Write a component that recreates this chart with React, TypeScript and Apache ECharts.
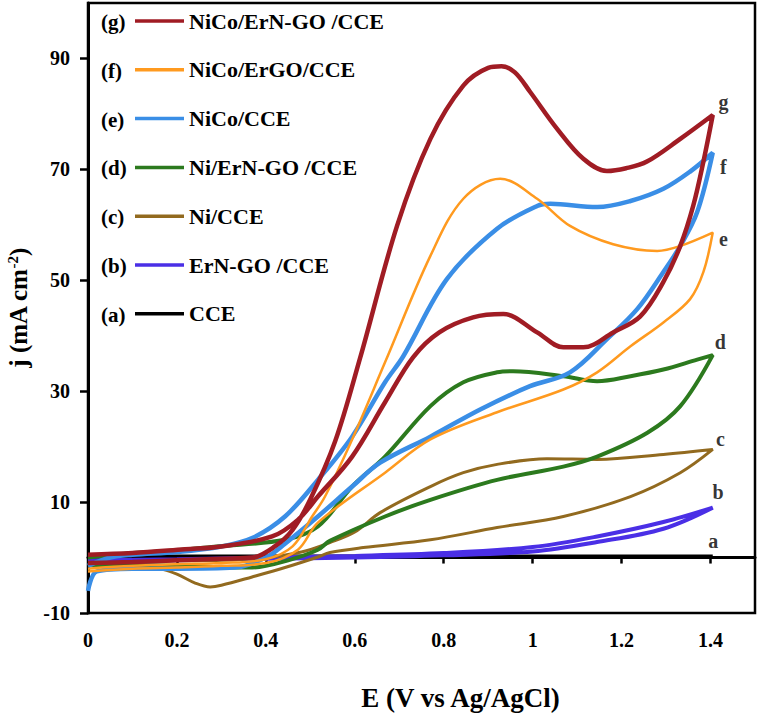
import React, { useEffect, useRef } from "react";
import * as echarts from "echarts";

// ---- data (E in V vs Ag/AgCl, j in mA cm^-2); each curve is one CV loop ----
const curveA: number[][] = [
  [0, 0.2], [0.4, 0.2], [0.8, 0.2], [1.2, 0.2], [1.405, 0.2],
  [1.2, 0.1], [0.8, 0.1], [0.4, 0.1], [0, 0.1],
];
const curveB: number[][] = [
  [0, -0.5], [0.2, -0.3], [0.4, 0], [0.6, 0.3], [0.8, 0.8], [1.0, 1.9], [1.145, 3.8], [1.294, 6.4], [1.405, 9],
  [1.294, 5.2], [1.145, 2.8], [1.0, 1.1], [0.8, 0.4], [0.6, 0], [0.4, -0.2], [0.2, -0.4], [0, -0.6],
];
const curveC: number[][] = [
  [0, -1], [0.1, -0.8], [0.2, -0.6], [0.3, -0.5], [0.4, 0], [0.48, 1], [0.544, 2.7], [0.6, 4.6], [0.657, 8.1],
  [0.77, 12.8], [0.844, 15.3], [0.92, 16.8], [1.032, 17.8], [1.145, 17.7], [1.294, 18.6], [1.405, 19.5],
  [1.332, 15.3], [1.22, 11], [1.069, 7.4], [0.92, 5.4], [0.77, 3.2], [0.619, 1.8], [0.544, 0.9], [0.517, 0.1],
  [0.443, -1.8], [0.369, -3.5], [0.3, -5], [0.275, -5.3], [0.241, -4.6], [0.2, -3], [0.16, -2], [0.08, -1.6], [0, -1.5],
];
const curveD: number[][] = [
  [0, 0], [0.1, 0.8], [0.2, 1.3], [0.29, 2], [0.443, 3.2], [0.517, 5.6], [0.594, 12.8], [0.668, 18.2],
  [0.77, 27.3], [0.844, 31.6], [0.92, 33.4], [0.956, 33.6], [1.069, 32.7], [1.145, 31.8], [1.22, 32.7],
  [1.294, 33.9], [1.37, 35.7], [1.405, 36.5],
  [1.332, 27.3], [1.258, 22.5], [1.145, 18.2], [1.069, 16.4], [0.92, 14], [0.77, 10.4], [0.668, 7.4],
  [0.544, 3], [0.517, 1.4], [0.45, -0.5], [0.369, -1.8], [0.2, -1.5], [0, -1.3],
];
const curveE: number[][] = [
  [0, -1.5], [0.05, 0], [0.1, 0.5], [0.2, 1], [0.3, 2], [0.369, 3.5], [0.443, 7.4], [0.517, 14], [0.594, 21.8],
  [0.668, 31.6], [0.709, 36.3], [0.807, 50.2], [0.92, 59.3], [1.01, 63.4], [1.04, 63.8], [1.145, 63.2],
  [1.22, 64.3], [1.294, 66.5], [1.354, 69.6], [1.405, 73],
  [1.37, 62.3], [1.332, 56.2], [1.294, 51.5], [1.235, 44.8], [1.167, 39.4], [1.084, 33.4], [0.994, 30.9],
  [0.882, 26.7], [0.77, 21.8], [0.657, 17.1], [0.594, 12.8], [0.517, 7.4], [0.443, 2.5], [0.4, 0],
  [0.33, -1.8], [0.2, -2], [0.1, -2], [0.02, -2.5], [0, -6],
];
const curveF: number[][] = [
  [0, -2], [0.1, -1.5], [0.2, -1.2], [0.3, -1], [0.4, -0.3], [0.46, 2], [0.504, 7.4], [0.533, 11],
  [0.594, 21.3], [0.668, 35.2], [0.77, 54.4], [0.844, 64.7], [0.927, 68.3], [1.01, 64.7], [1.084, 59.8],
  [1.181, 56.5], [1.28, 55.3], [1.332, 56.2], [1.405, 58.6],
  [1.384, 51.5], [1.354, 46.6], [1.294, 42.4], [1.22, 38.1], [1.145, 33.4], [1.069, 30.3], [0.92, 26.2],
  [0.77, 21.3], [0.668, 15.3], [0.517, 6.3], [0.472, 1.4], [0.4, -1], [0.3, -1.5], [0.2, -1.8], [0.1, -2], [0, -2.5],
];
const curveG: number[][] = [
  [0, -1], [0.1, -0.8], [0.2, -0.5], [0.3, -0.2], [0.37, 0], [0.42, 2], [0.46, 5], [0.5, 10.5], [0.556, 21],
  [0.612, 36], [0.695, 59.8], [0.77, 75.5], [0.844, 85.1], [0.9, 88.3], [0.93, 88.6], [0.96, 87.5],
  [0.994, 84], [1.055, 77.3], [1.114, 71.9], [1.167, 69.7], [1.21, 70.2], [1.257, 71.4], [1.332, 75.5], [1.405, 79.8],
  [1.384, 71.4], [1.361, 63.4], [1.332, 56.2], [1.294, 49.7], [1.242, 43.5], [1.181, 40.6], [1.114, 37.9],
  [1.069, 37.9], [1.01, 40.6], [0.934, 43.9], [0.866, 43.3], [0.79, 40.6], [0.731, 36.1], [0.668, 28],
  [0.594, 18.2], [0.517, 11], [0.472, 6.8], [0.414, 3.8], [0.3, 2], [0.218, 1.5], [0.1, 0.8], [0, 0.5],
];

const seriesNames = [
  "NiCo/ErN-GO /CCE",
  "NiCo/ErGO/CCE",
  "NiCo/CCE",
  "Ni/ErN-GO /CCE",
  "Ni/CCE",
  "ErN-GO /CCE",
  "CCE",
];
const seriesTags = ["(g)", "(f)", "(e)", "(d)", "(c)", "(b)", "(a)"];
const seriesCurves = [curveG, curveF, curveE, curveD, curveC, curveB, curveA];
const seriesColors = ["#A01C24", "#FF9A1F", "#3A8EE6", "#2C7A1E", "#926A1F", "#4A2FE6", "#000000"];
const seriesWidths = [4.5, 2.5, 4.5, 4, 3, 4, 4];

// letters written next to the turning points (as in the figure)
const endLetters: (number | string)[][] = [
  [1.429, 82.2, "g"],
  [1.429, 70.5, "f"],
  [1.429, 57.5, "e"],
  [1.422, 38.8, "d"],
  [1.422, 21.3, "c"],
  [1.417, 11.9, "b"],
  [1.406, 2.9, "a"],
];

const xTicks = [0, 0.2, 0.4, 0.6, 0.8, 1, 1.2, 1.4];
const yTicks = [-10, 10, 30, 50, 70, 90];

const FONT = '"Liberation Serif", "Times New Roman", serif';

export default function App() {
  const ref = useRef<HTMLDivElement>(null);

  useEffect(() => {
    if (!ref.current) return;
    const chart = echarts.init(ref.current, undefined, { renderer: "svg" });

    const legendTop = 5;
    const legendStep = 48.8;

    const lineSeries = seriesNames.map((name, i) => ({
      name,
      type: "line",
      data: seriesCurves[i],
      showSymbol: false,
      symbol: "none",
      smooth: 0.35,
      lineStyle: { color: seriesColors[i], width: seriesWidths[i] },
      itemStyle: { color: seriesColors[i] },
      z: 10 - i,
    }));

    const option: any = {
      animation: false,
      backgroundColor: "#ffffff",
      grid: {
        left: 88,
        right: 5,
        top: 3,
        bottom: 100,
        containLabel: false,
        outerBoundsMode: "none",
        show: true,
        borderColor: "#000",
        borderWidth: 2.5,
        backgroundColor: "transparent",
      },
      legend: {
        data: seriesNames,
        orient: "vertical",
        left: 130,
        top: legendTop,
        icon: "rect",
        itemWidth: 49,
        itemHeight: 3.5,
        itemGap: 26.8,
        textStyle: {
          fontFamily: FONT,
          fontWeight: "bold",
          fontSize: 22,
          color: "#000",
          lineHeight: 22,
        },
        selectedMode: false,
      },
      xAxis: {
        type: "value",
        min: 0,
        max: 1.5,
        interval: 0.2,
        name: "E (V vs Ag/AgCl)",
        nameLocation: "middle",
        nameGap: 71,
        nameTextStyle: {
          fontFamily: FONT,
          fontWeight: "bold",
          fontSize: 27,
          color: "#000",
          padding: [0, 0, 0, 78],
        },
        axisLine: { lineStyle: { color: "#000", width: 3 } },
        axisTick: { show: true, length: 6, lineStyle: { color: "#000", width: 2.5 }, customValues: xTicks },
        axisLabel: {
          customValues: xTicks,
          margin: 17,
          fontFamily: FONT,
          fontWeight: "bold",
          fontSize: 20,
          color: "#000",
          formatter: (v: number) => (v > 1.45 ? "" : String(Math.round(v * 10) / 10)),
        },
        splitLine: { show: false },
      },
      yAxis: {
        type: "value",
        min: -10,
        max: 100,
        interval: 20,
        name: "{t|j (mA cm}{s|-2}{t|)}",
        nameLocation: "middle",
        nameGap: 57,
        nameRotate: 90,
        nameTextStyle: {
          fontFamily: FONT,
          fontWeight: "bold",
          fontSize: 25,
          color: "#000",
          padding: [0, 0, 0, 0],
          rich: {
            t: { fontFamily: FONT, fontWeight: "bold", fontSize: 25, color: "#000" },
            s: { fontFamily: FONT, fontWeight: "bold", fontSize: 15, color: "#000", verticalAlign: "top", padding: [0, 0, 11, 0] },
          },
        },
        axisLine: { show: true, lineStyle: { color: "#000", width: 3 } },
        axisTick: { show: true, length: 8, lineStyle: { color: "#000", width: 2.5 }, customValues: yTicks },
        axisLabel: {
          customValues: yTicks,
          margin: 18,
          fontFamily: FONT,
          fontWeight: "bold",
          fontSize: 20,
          color: "#000",
          formatter: (v: number) => (v > 95 ? "" : String(v)),
        },
        splitLine: { show: false },
      },
      graphic: seriesTags.map((tag, i) => ({
        type: "text",
        x: 101,
        y: 22 + i * legendStep,
        style: {
          text: tag,
          fontFamily: FONT,
          fontWeight: "bold",
          fontSize: 21,
          fill: "#000",
          verticalAlign: "middle",
        },
        z: 100,
      })),
      series: [
        ...lineSeries,
        {
          name: "letters",
          type: "scatter",
          data: endLetters,
          symbolSize: 1,
          itemStyle: { color: "transparent" },
          label: {
            show: true,
            position: "inside",
            formatter: (p: any) => String(p.value[2]),
            fontFamily: FONT,
            fontWeight: "bold",
            fontSize: 20,
            color: "#000",
          },
          z: 20,
        },
      ],
    };

    chart.setOption(option);
    return () => chart.dispose();
  }, []);

  return (
    <div
      ref={ref}
      style={{ position: "fixed", left: 0, top: 0, width: 760, height: 713, background: "#fff" }}
    />
  );
}
